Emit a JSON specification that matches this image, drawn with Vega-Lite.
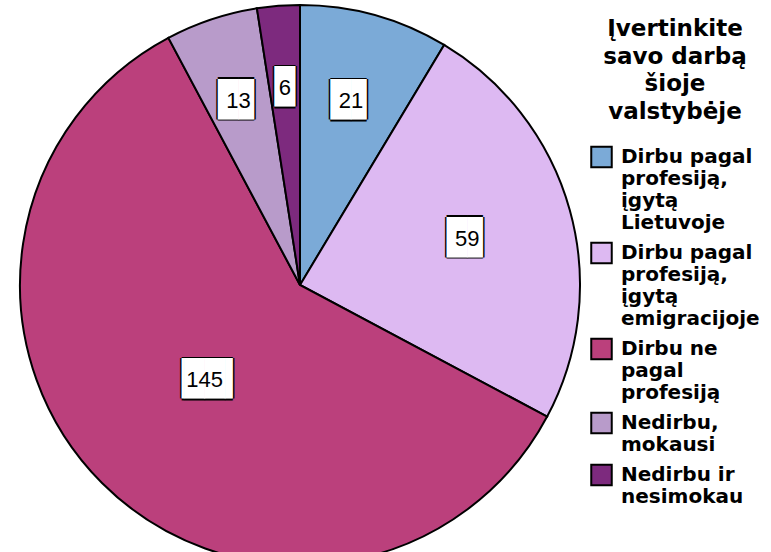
{
  "$schema": "https://vega.github.io/schema/vega-lite/v6.json",
  "width": 600,
  "height": 570,
  "padding": 0,
  "autosize": {"type": "pad"},
  "background": "white",
  "config": {"view": {"stroke": null}},
  "data": {
    "values": [
      {"category": "Dirbu pagal profesiją, įgytą Lietuvoje", "value": 21, "i": 1},
      {"category": "Dirbu pagal profesiją, įgytą emigracijoje", "value": 59, "i": 2},
      {"category": "Dirbu ne pagal profesiją", "value": 145, "i": 3},
      {"category": "Nedirbu, mokausi", "value": 13, "i": 4},
      {"category": "Nedirbu ir nesimokau", "value": 6, "i": 5}
    ]
  },
  "encoding": {
    "theta": {"field": "value", "type": "quantitative", "stack": true},
    "order": {"field": "i", "type": "quantitative"}
  },
  "layer": [
    {
      "mark": {"type": "arc", "radius": 280, "stroke": "black", "strokeWidth": 2},
      "encoding": {
        "color": {
          "field": "category",
          "type": "nominal",
          "scale": {
            "domain": ["Dirbu pagal profesiją, įgytą Lietuvoje", "Dirbu pagal profesiją, įgytą emigracijoje", "Dirbu ne pagal profesiją", "Nedirbu, mokausi", "Nedirbu ir nesimokau"],
            "range": ["#7BAAD7", "#DDB9F2", "#BB407C", "#B89BCA", "#7D2A7E"]
          },
          "legend": {
            "title": ["Įvertinkite", "savo darbą", "šioje", "valstybėje"],
            "orient": "none",
            "legendX": 590,
            "legendY": 18,
            "titleFont": "DejaVu Sans",
            "titleFontSize": 23,
            "titleFontWeight": "bold",
            "titleColor": "black",
            "titleLineHeight": 27.5,
            "titleAlign": "center",
            "titleAnchor": "middle",
            "titlePadding": 22,
            "labelFont": "DejaVu Sans",
            "labelFontSize": 20,
            "labelFontWeight": "bold",
            "labelColor": "black",
            "labelLimit": 250,
            "labelOffset": 8,
            "labelBaseline": "middle",
            "symbolType": "square",
            "symbolSize": 420,
            "symbolStrokeColor": "black",
            "symbolStrokeWidth": 2,
            "symbolOpacity": 1,
            "rowPadding": 5,
            "labelExpr": "datum.label == 'Dirbu pagal profesiją, įgytą Lietuvoje' ? ['Dirbu pagal','profesiją,','įgytą','Lietuvoje'] : datum.label == 'Dirbu pagal profesiją, įgytą emigracijoje' ? ['Dirbu pagal','profesiją,','įgytą','emigracijoje'] : datum.label == 'Dirbu ne pagal profesiją' ? ['Dirbu ne','pagal','profesiją'] : datum.label == 'Nedirbu, mokausi' ? ['Nedirbu,','mokausi'] : ['Nedirbu ir','nesimokau']"
          }
        }
      }
    },
    {
      "mark": {"type": "text", "font": "DejaVu Sans Mono", "fontSize": 34, "color": "black", "dx": -1.5},
      "encoding": {
        "detail": {"field": "category"},
        "radius": {"field": "value", "type": "quantitative", "scale": {"type": "linear", "domain": [0, 145], "range": [200, 135]}},
        "text": {"condition": [{"test": "datum.value >= 100", "value": "▕██▍"}, {"test": "datum.value >= 10", "value": "█▊"}], "value": "█"}
      }
    },
    {
      "mark": {"type": "text", "font": "DejaVu Sans Mono", "fontSize": 34, "color": "black", "dx": 1.5},
      "encoding": {
        "detail": {"field": "category"},
        "radius": {"field": "value", "type": "quantitative", "scale": {"type": "linear", "domain": [0, 145], "range": [200, 135]}},
        "text": {"condition": [{"test": "datum.value >= 100", "value": "▕██▍"}, {"test": "datum.value >= 10", "value": "█▊"}], "value": "█"}
      }
    },
    {
      "mark": {"type": "text", "font": "DejaVu Sans Mono", "fontSize": 34, "color": "black", "dy": -1.5},
      "encoding": {
        "detail": {"field": "category"},
        "radius": {"field": "value", "type": "quantitative", "scale": {"type": "linear", "domain": [0, 145], "range": [200, 135]}},
        "text": {"condition": [{"test": "datum.value >= 100", "value": "▕██▍"}, {"test": "datum.value >= 10", "value": "█▊"}], "value": "█"}
      }
    },
    {
      "mark": {"type": "text", "font": "DejaVu Sans Mono", "fontSize": 34, "color": "black", "dy": 1.5},
      "encoding": {
        "detail": {"field": "category"},
        "radius": {"field": "value", "type": "quantitative", "scale": {"type": "linear", "domain": [0, 145], "range": [200, 135]}},
        "text": {"condition": [{"test": "datum.value >= 100", "value": "▕██▍"}, {"test": "datum.value >= 10", "value": "█▊"}], "value": "█"}
      }
    },
    {
      "mark": {"type": "text", "font": "DejaVu Sans Mono", "fontSize": 34, "color": "white"},
      "encoding": {
        "detail": {"field": "category"},
        "radius": {"field": "value", "type": "quantitative", "scale": {"type": "linear", "domain": [0, 145], "range": [200, 135]}},
        "text": {"condition": [{"test": "datum.value >= 100", "value": "▕██▍"}, {"test": "datum.value >= 10", "value": "█▊"}], "value": "█"}
      }
    },
    {
      "mark": {"type": "text", "font": "Liberation Sans", "fontSize": 22, "color": "black"},
      "encoding": {
        "detail": {"field": "category"},
        "radius": {"field": "value", "type": "quantitative", "scale": {"type": "linear", "domain": [0, 145], "range": [200, 135]}},
        "text": {"field": "value", "type": "quantitative"}
      }
    }
  ]
}
